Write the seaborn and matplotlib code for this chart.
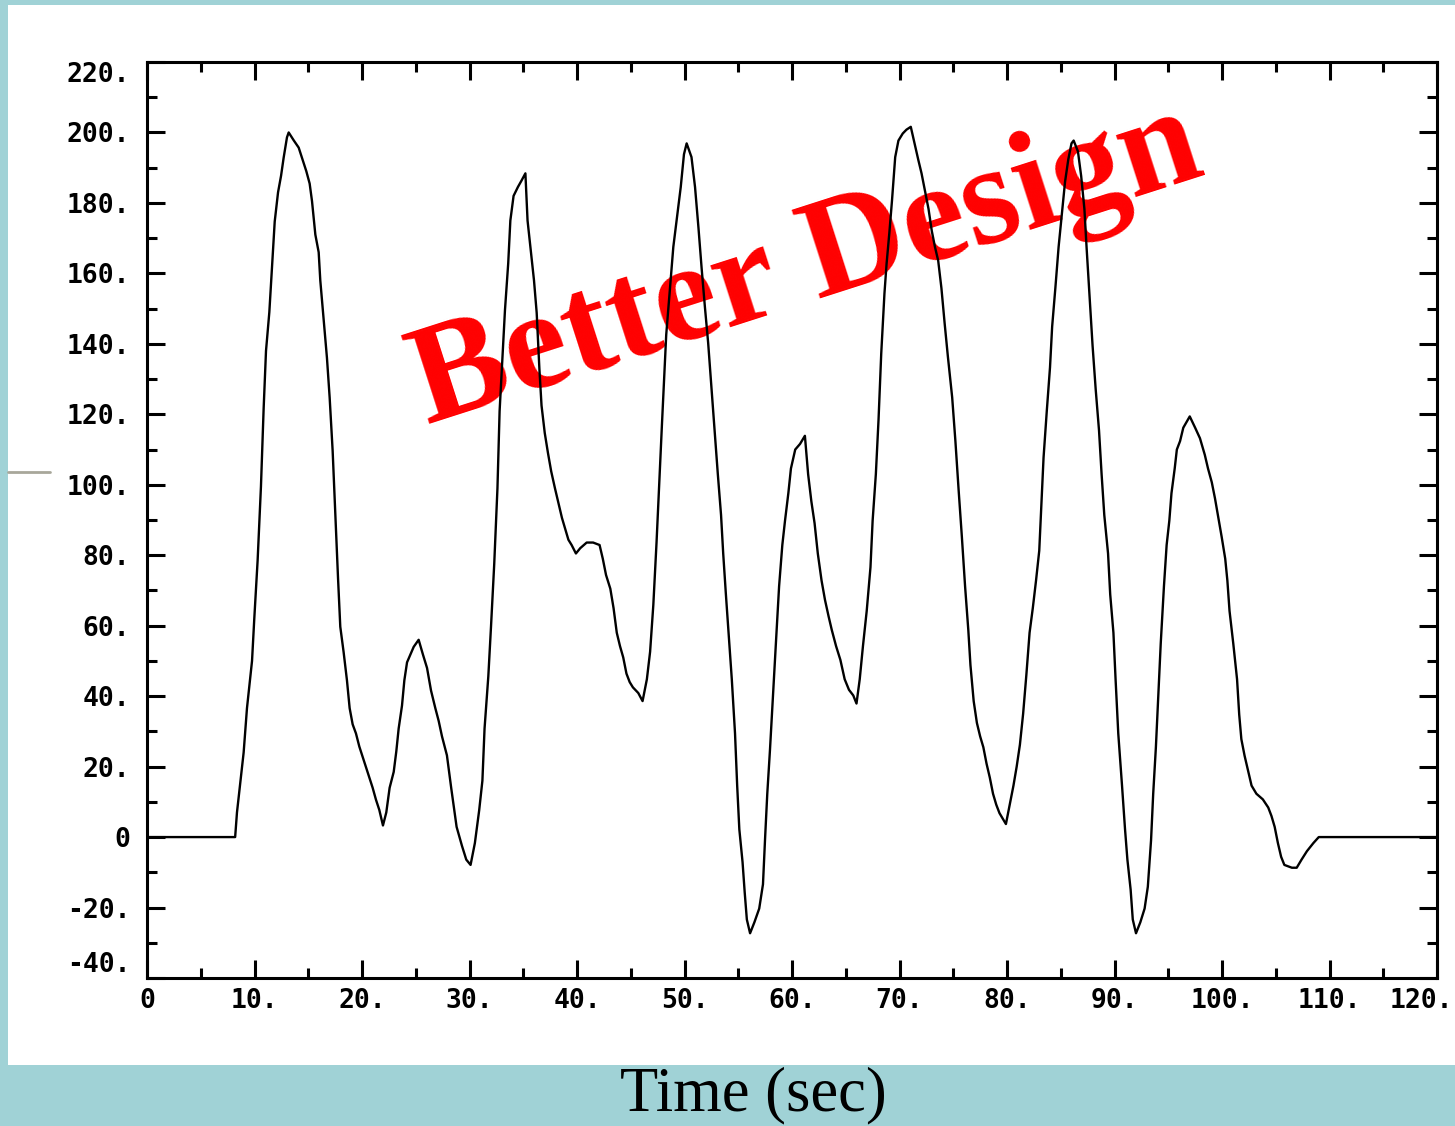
import matplotlib
matplotlib.use('Agg')
import matplotlib.pyplot as plt
import seaborn as sns
from matplotlib.patches import Rectangle
from matplotlib.lines import Line2D
from matplotlib.ticker import FixedLocator, MultipleLocator

# ---------------- data ----------------
time_sec = [
    0, 8.2, 8.37, 8.68, 8.99, 9.30, 9.77, 9.98, 10.29, 10.60, 10.85, 11.07, 11.38,
    11.63, 11.88, 12.19, 12.47, 12.71, 13.02, 13.18, 13.64, 14.11, 14.42, 14.82,
    15.13, 15.35, 15.66, 15.97, 16.12, 16.43, 16.74, 16.99, 17.27, 17.52, 17.77,
    17.98, 18.29, 18.60, 18.85, 19.13, 19.44, 19.75, 20.06, 20.37, 20.68, 20.99,
    21.30, 21.61, 21.95, 22.26, 22.57, 22.95, 23.19, 23.41, 23.72, 23.94, 24.19,
    24.50, 24.81, 25.27, 25.67, 26.05, 26.42, 26.82, 27.13, 27.44, 27.9, 28.3,
    28.8, 29.3, 29.7, 30.1, 30.5, 30.9, 31.2, 31.4, 31.75, 32.0, 32.3, 32.6, 32.8,
    33.1, 33.3, 33.6, 33.8, 34.1, 34.5, 34.85, 35.2, 35.4, 35.7, 36.0, 36.25, 36.5,
    36.7, 37.0, 37.3, 37.6, 37.95, 38.3, 38.6, 38.9, 39.2, 39.5, 39.9, 40.3, 40.9,
    41.5, 42.1, 42.4, 42.7, 43.1, 43.4, 43.7, 44.0, 44.3, 44.6, 44.9, 45.2, 45.7,
    46.1, 46.5, 46.8, 47.1, 47.4, 47.65, 47.9, 48.1, 48.3, 48.65, 48.96, 49.3,
    49.65, 49.95, 50.2, 50.65, 50.98, 51.3, 51.6, 51.9, 52.2, 52.5, 52.8, 53.1,
    53.4, 53.6, 53.85, 54.1, 54.4, 54.7, 54.9, 55.1, 55.4, 55.6, 55.8, 56.1, 56.5,
    56.95, 57.3, 57.5, 57.7, 57.95, 58.2, 58.5, 58.8, 59.1, 59.35, 59.66, 59.9,
    60.3, 60.75, 61.2, 61.5, 61.8, 62.1, 62.4, 62.75, 63.07, 63.4, 63.7, 64.1,
    64.5, 64.9, 65.3, 65.7, 66.0, 66.3, 66.6, 66.95, 67.3, 67.5, 67.8, 68.05, 68.3,
    68.6, 68.8, 69.05, 69.3, 69.6, 69.9, 70.3, 70.65, 71.05, 71.4, 71.75, 72.05,
    72.4, 72.7, 73.0, 73.3, 73.6, 73.9, 74.2, 74.5, 74.9, 75.2, 75.5, 75.8, 76.1,
    76.4, 76.6, 76.9, 77.2, 77.5, 77.8, 78.1, 78.4, 78.7, 79.0, 79.3, 79.9, 80.3,
    80.6, 80.9, 81.2, 81.5, 81.8, 82.1, 82.4, 82.7, 83.0, 83.2, 83.4, 83.7, 84.0,
    84.2, 84.5, 84.8, 85.1, 85.4, 85.7, 86.0, 86.2, 86.6, 86.9, 87.2, 87.4, 87.7,
    87.96, 88.25, 88.56, 88.8, 89.05, 89.4, 89.6, 89.9, 90.1, 90.35, 90.7, 90.98,
    91.2, 91.5, 91.7, 92.0, 92.4, 92.8, 93.1, 93.4, 93.6, 93.85, 94.05, 94.3, 94.6,
    94.85, 95.1, 95.3, 95.6, 95.8, 96.1, 96.4, 97.0, 97.5, 97.95, 98.4, 98.7,
    99.05, 99.35, 99.66, 99.97, 100.3, 100.5, 100.7, 101.05, 101.4, 101.6, 101.8,
    102.1, 102.4, 102.75, 103.2, 103.8, 104.3, 104.6, 104.9, 105.2, 105.5, 105.8,
    106.5, 106.95, 107.4, 107.9, 108.5, 109.0, 120,
]
response = [
    0, 0, 7, 15.6, 24, 36.6, 50, 62, 78.5, 99.5, 121.6, 138, 149,
    162, 174.7, 183, 187.7, 192.8, 198.6, 200, 197.8, 195.7, 192.8, 189,
    185.5, 180.5, 171, 166, 158, 147, 136, 124.8, 109.6, 91.5, 73.5,
    59.7, 52.5, 44.5, 36.6, 32, 29.4, 25.7, 22.8, 20, 17, 14,
    10.6, 7.7, 3.3, 7, 14, 18.5, 24.3, 30.8, 37.3, 44.5, 49.6,
    51.8, 54, 56, 51.8, 48, 41.6, 36.6, 33, 28.6, 23.2, 13.9,
    2.9, -2.5, -6.4, -7.9, -1.7, 7.6, 16, 30.8, 45.6, 59.7, 77.5, 99, 120.9,
    138, 149.6, 162.8, 175, 182, 184.5, 186.4, 188.4, 175, 166.6, 158, 148.8, 133,
    122.5, 114.7, 109, 103.8, 99, 94.5, 90.6, 87.5, 84.4, 82.9, 80.5, 82, 83.6,
    83.6, 82.9, 79, 74.4, 70.5, 65, 58, 54.2, 51, 46.4, 44, 42.5, 40.9,
    38.6, 44.8, 52.6, 65.9, 83.7, 100.7, 117, 130, 142.6, 155.9, 167.5, 176,
    184.5, 193.8, 196.9, 193, 184.5, 172.9, 161.2, 150.4, 140.3, 127.9, 115.4, 103,
    91.4, 80.5, 68.9, 58, 44.8, 29.4, 14.6, 2.2, -7.1, -15.7, -23.4, -27.3, -24.2,
    -20.3, -13.4, -0.1, 12.3, 24.7, 38.6, 54.9, 71.2, 82.9, 89.8, 97.6, 104.6,
    110, 111.6, 113.9, 103, 95.3, 89.1, 80.5, 72.8, 67.3, 62.7, 58.8, 54.2,
    50.3, 44.8, 41.8, 40.2, 37.9, 44.8, 54.2, 64.2, 76.6, 89.8, 103, 118.5, 137.2,
    154.3, 162.8, 171.3, 180.6, 193, 197.7, 199.7, 200.8, 201.6, 196.9, 192.2, 188.4,
    183, 178.3, 172.1, 167.5, 163.6, 155.8, 145.8, 136.4, 124.8, 112.4, 98.5, 85.3, 71.2,
    58.8, 48.8, 38.6, 32.4, 28.6, 25.5, 20.8, 16.9, 12.3, 9.2, 6.8, 3.7, 9.9,
    14.6, 20, 26.2, 35, 46, 58, 65, 72.8, 81.3, 94.5, 107.7, 120.9, 133.3,
    144.9, 155.9, 167.5, 176.7, 186, 192.3, 196.9, 197.7, 194.6, 187.6, 178.3, 167.5, 152.7,
    139.5, 127.1, 115.4, 103, 91.4, 80.5, 68.9, 58, 44.8, 29.4, 14.6, 2.2,
    -6.4, -14.9, -23.4, -27.3, -24.2, -20.3, -14.1, -0.9, 12.3, 25.5, 38.6, 54.9, 71.2,
    82.9, 89.8, 97.6, 104.6, 110, 112.4, 116.2, 119.4, 116.2, 113.2, 108.5, 104.6,
    100.7, 96.1, 90.6, 85.2, 79, 72.8, 64.2, 54.9, 44.8, 34.8, 27.8,
    23.1, 19.2, 14.6, 12.3, 10.7, 8.4, 6, 2.9, -1.7, -5.6, -7.9,
    -8.7, -8.7, -6.4, -4.0, -1.7, 0, 0,
]
x_ticks = [0, 10, 20, 30, 40, 50, 60, 70, 80, 90, 100, 110, 120]
x_tick_labels = ['0', '10.', '20.', '30.', '40.', '50.', '60.', '70.', '80.',
                 '90.', '100.', '110.', '120.']
y_ticks = [-40, -20, 0, 20, 40, 60, 80, 100, 120, 140, 160, 180, 200, 220]
y_tick_labels = ['-40.', '-20.', '0', '20.', '40.', '60.', '80.', '100.', '120.',
                 '140.', '160.', '180.', '200.', '220.']
watermark = 'Better Design'
x_title = 'Time (sec)'

# ---------------- figure ----------------
sns.set_theme(style='white')
plt.rcParams['font.family'] = ['DejaVu Sans']
plt.rcParams['text.color'] = 'black'

W, H = 1455, 1126
fig = plt.figure(figsize=(W / 100, H / 100), dpi=100, facecolor='#A0D2D6')

# white slide panel
fig.add_artist(Rectangle((8 / W, 1 - 1065 / H), (W - 8) / W, (1065 - 5) / H,
                         transform=fig.transFigure, facecolor='white',
                         edgecolor='none', zorder=-5))
# small grey decoration at the left edge
fig.add_artist(Line2D([8 / W, 50 / W], [1 - 472 / H] * 2, color='#A8A79A',
                      lw=2.0, transform=fig.transFigure))

ax = fig.add_axes([147 / W, 1 - 978 / H, (1437 - 147) / W, (978 - 62) / H])
ax.set_facecolor('white')

sns.lineplot(x=time_sec, y=response, ax=ax, color='black', linewidth=1.7,
             estimator=None, sort=False, zorder=3)

ax.set_xlim(0, 120)
ax.set_ylim(-40, 220)
ax.xaxis.set_major_locator(FixedLocator(x_ticks))
ax.yaxis.set_major_locator(FixedLocator(y_ticks))
ax.xaxis.set_minor_locator(MultipleLocator(5))
ax.yaxis.set_minor_locator(MultipleLocator(10))

tick_font = dict(family='DejaVu Sans Mono', weight='bold', size=19)
# last x label is drawn separately so that it stays inside the picture
ax.set_xticklabels(x_tick_labels[:-1] + [''], fontdict=tick_font)
ax.set_yticklabels(y_tick_labels, fontdict=tick_font)
ylabels = ax.get_yticklabels()
ylabels[-1].set_va('top')
ylabels[0].set_va('bottom')

ax.tick_params(which='both', direction='in', top=True, right=True, bottom=True,
               left=True, width=2.2, color='black', labelcolor='black')
ax.tick_params(which='major', length=13)
ax.tick_params(which='minor', length=7)
ax.tick_params(axis='y', which='major', pad=12)
ax.tick_params(axis='x', which='major', pad=7)
ax.grid(False)
for sp in ax.spines.values():
    sp.set_visible(True)
    sp.set_color('black')
    sp.set_linewidth(2.2)
ax.set_xlabel('')
ax.set_ylabel('')

fig.text(1453 / W, 1 - 988 / H, x_tick_labels[-1], ha='right', va='top',
         color='black', **tick_font)

# red watermark text (under the curve)
ax.text(428 / W, 1 - 424 / H, watermark, transform=fig.transFigure,
        rotation=17.8, rotation_mode='anchor', ha='left', va='baseline',
        fontsize=102, fontweight='bold', family='Liberation Serif',
        color='#FF0000', zorder=1)

# x title in the teal strip
fig.text(753 / W, 1 - 1095 / H, x_title, ha='center', va='center',
         fontsize=45, family='Liberation Serif', color='black')

fig.savefig('out.png', dpi=100, facecolor=fig.get_facecolor())
